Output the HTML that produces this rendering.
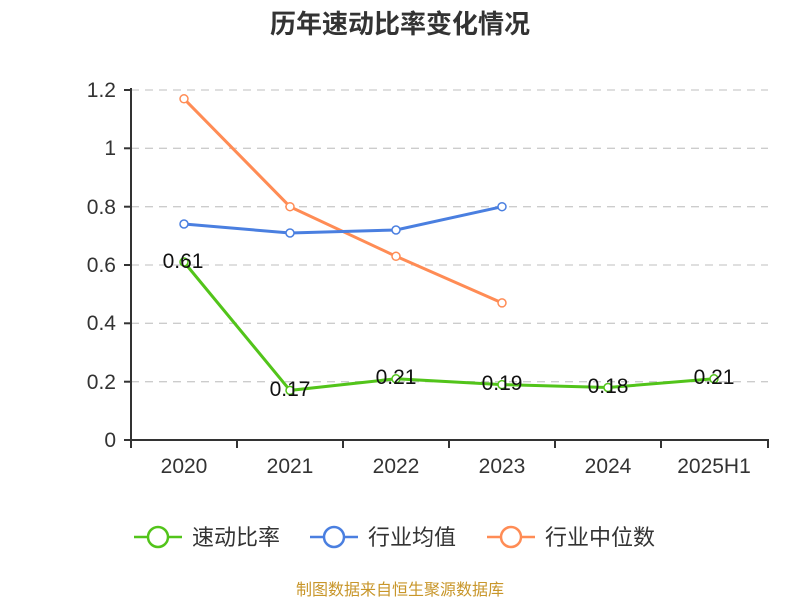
<!DOCTYPE html><html><head><meta charset="utf-8"><style>body{margin:0;background:#fff}svg{display:block;font-family:"Liberation Sans","Noto Sans CJK SC",sans-serif}</style></head><body>
<svg width="800" height="600" xmlns="http://www.w3.org/2000/svg">
<text x="400" y="33" text-anchor="middle" font-size="26" font-weight="bold" fill="#333">历年速动比率变化情况</text>
<g stroke="#ccc" stroke-dasharray="8,6" stroke-width="1.3">
<line x1="131" x2="768" y1="90" y2="90"/><line x1="131" x2="768" y1="148.3" y2="148.3"/><line x1="131" x2="768" y1="206.7" y2="206.7"/><line x1="131" x2="768" y1="265" y2="265"/><line x1="131" x2="768" y1="323.3" y2="323.3"/><line x1="131" x2="768" y1="381.7" y2="381.7"/></g>
<g stroke="#333" stroke-width="2"><line x1="131" x2="131" y1="88" y2="441"/><line x1="130" x2="769" y1="440" y2="440"/>
<line x1="124" x2="131" y1="90" y2="90"/><line x1="124" x2="131" y1="148.3" y2="148.3"/><line x1="124" x2="131" y1="206.7" y2="206.7"/><line x1="124" x2="131" y1="265" y2="265"/><line x1="124" x2="131" y1="323.3" y2="323.3"/><line x1="124" x2="131" y1="381.7" y2="381.7"/><line x1="124" x2="131" y1="440" y2="440"/>
<line x1="131" x2="131" y1="440" y2="448"/><line x1="237" x2="237" y1="440" y2="448"/><line x1="343" x2="343" y1="440" y2="448"/><line x1="449" x2="449" y1="440" y2="448"/><line x1="555" x2="555" y1="440" y2="448"/><line x1="661" x2="661" y1="440" y2="448"/><line x1="768" x2="768" y1="440" y2="448"/></g>
<g font-size="21" fill="#333" text-anchor="end"><text x="116" y="97">1.2</text><text x="116" y="155">1</text><text x="116" y="214">0.8</text><text x="116" y="272">0.6</text><text x="116" y="330">0.4</text><text x="116" y="389">0.2</text><text x="116" y="447">0</text></g>
<g font-size="21" fill="#333" text-anchor="middle"><text x="184" y="473">2020</text><text x="290" y="473">2021</text><text x="396" y="473">2022</text><text x="502" y="473">2023</text><text x="608" y="473">2024</text><text x="714" y="473">2025H1</text></g>
<polyline fill="none" stroke="#ff8c55" stroke-width="3" points="184,98.8 290,206.7 396,256.3 502,302.9"/>
<polyline fill="none" stroke="#4a7fe0" stroke-width="3" points="184,224 290,233 396,230 502,206.7"/>
<polyline fill="none" stroke="#52c41a" stroke-width="3" points="184,262 290,390.4 396,378.8 502,384.6 608,387.5 714,378.8"/>
<g fill="#fff" stroke-width="1.5">
<g stroke="#ff8c55"><circle cx="184" cy="98.8" r="4"/><circle cx="290" cy="206.7" r="4"/><circle cx="396" cy="256.3" r="4"/><circle cx="502" cy="302.9" r="4"/></g>
<g stroke="#4a7fe0"><circle cx="184" cy="224" r="4"/><circle cx="290" cy="233" r="4"/><circle cx="396" cy="230" r="4"/><circle cx="502" cy="206.7" r="4"/></g>
<g stroke="#52c41a"><circle cx="184" cy="262" r="4"/><circle cx="290" cy="390.4" r="4"/><circle cx="396" cy="378.8" r="4"/><circle cx="502" cy="384.6" r="4"/><circle cx="608" cy="387.5" r="4"/><circle cx="714" cy="378.8" r="4"/></g></g>
<g font-size="21" fill="#111" text-anchor="middle"><text x="183" y="268">0.61</text><text x="290" y="396">0.17</text><text x="396" y="384">0.21</text><text x="502" y="390">0.19</text><text x="608" y="393">0.18</text><text x="714" y="384">0.21</text></g>
<g stroke-width="2.5" fill="#fff">
<line x1="134" x2="182" y1="537" y2="537" stroke="#52c41a"/><circle cx="158" cy="537" r="10" stroke="#52c41a"/>
<line x1="310" x2="358" y1="537" y2="537" stroke="#4a7fe0"/><circle cx="334" cy="537" r="10" stroke="#4a7fe0"/>
<line x1="487" x2="535" y1="537" y2="537" stroke="#ff8c55"/><circle cx="511" cy="537" r="10" stroke="#ff8c55"/></g>
<g font-size="22" fill="#333"><text x="192" y="545">速动比率</text><text x="368" y="545">行业均值</text><text x="545" y="545">行业中位数</text></g>
<text x="400" y="595" text-anchor="middle" font-size="16" fill="#c8962a">制图数据来自恒生聚源数据库</text>
</svg></body></html>
